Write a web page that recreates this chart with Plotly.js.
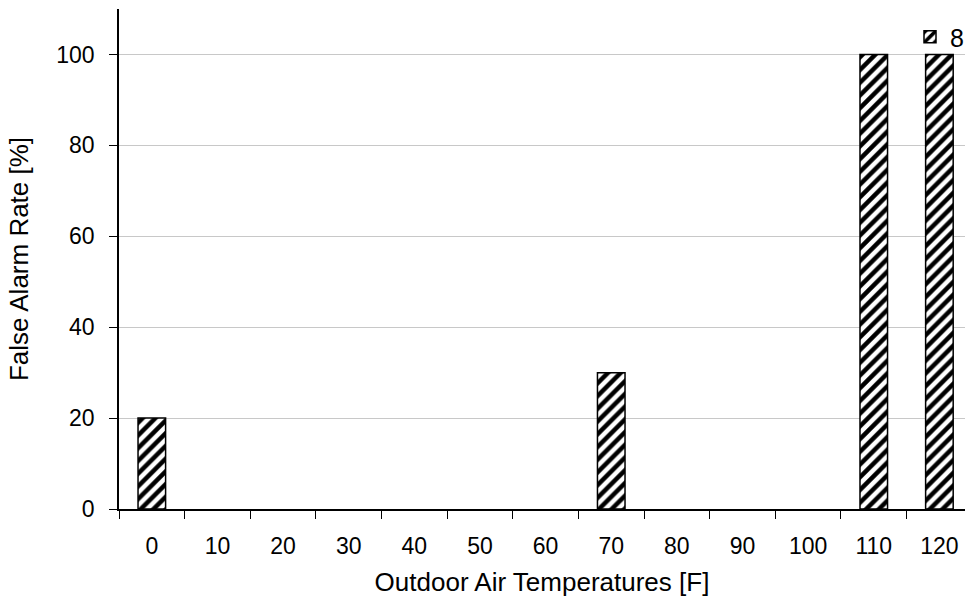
<!DOCTYPE html>
<html><head><meta charset="utf-8">
<script src="https://cdn.plot.ly/plotly-3.0.1.min.js"></script>
<style>html,body{margin:0;padding:0;background:#fff}#c{width:969px;height:609px}</style>
</head><body><div id="c"></div>
<script>
const categories = ["0","10","20","30","40","50","60","70","80","90","100","110","120"];
const seriesName = "8";
const falseAlarmRate = [20,0,0,0,0,0,0,30,0,0,0,100,100];
const yTicks = [0,20,40,60,80,100];

const trace = {
  type: 'bar', x: categories, y: falseAlarmRate, name: seriesName,
  width: 0.42,
  marker: {color: '#ffffff',
    line: {color: '#000', width: falseAlarmRate.map(v => v > 0 ? 1.5 : 0)},
    pattern: {shape: '/', fgcolor: '#000', bgcolor: '#fff', size: 9, solidity: 0.5, fgopacity: 1}},
  hoverinfo: 'x+y'
};
const f = {family: 'Liberation Sans, Arial, sans-serif', size: 23, color: '#000'};
const ft = {family: 'Liberation Sans, Arial, sans-serif', size: 26, color: '#000'};
const layout = {
  width: 969, height: 609,
  margin: {l: 119, r: 0, t: 9, b: 100},
  paper_bgcolor: '#fff', plot_bgcolor: '#fff',
  font: f,
  showlegend: true,
  legend: {x: 0.935, y: 0.99, xanchor: 'left', yanchor: 'top', bgcolor: 'rgba(0,0,0,0)',
    font: {family: f.family, size: 25, color: '#000'}, itemwidth: 30},
  xaxis: {type: 'category', range: [-0.5, 12.39], tickson: 'boundaries', ticks: 'outside', ticklen: 8,
    tickcolor: '#000', showline: true, linecolor: '#000', linewidth: 1.5, showgrid: false,
    ticklabelstandoff: 16,
    tickfont: f, title: {text: 'Outdoor Air Temperatures [F]', font: ft, standoff: 14}},
  yaxis: {range: [0, 110], tickvals: yTicks, ticks: 'outside', ticklen: 8, tickcolor: '#000',
    showline: true, linecolor: '#000', linewidth: 1.5, showgrid: true, gridcolor: '#c8c8c8',
    ticklabelstandoff: 10,
    zeroline: false, tickfont: f, title: {text: 'False Alarm Rate [%]', font: ft, standoff: 20}}
};
Plotly.newPlot('c', [trace], layout, {displayModeBar: false});
</script></body></html>
